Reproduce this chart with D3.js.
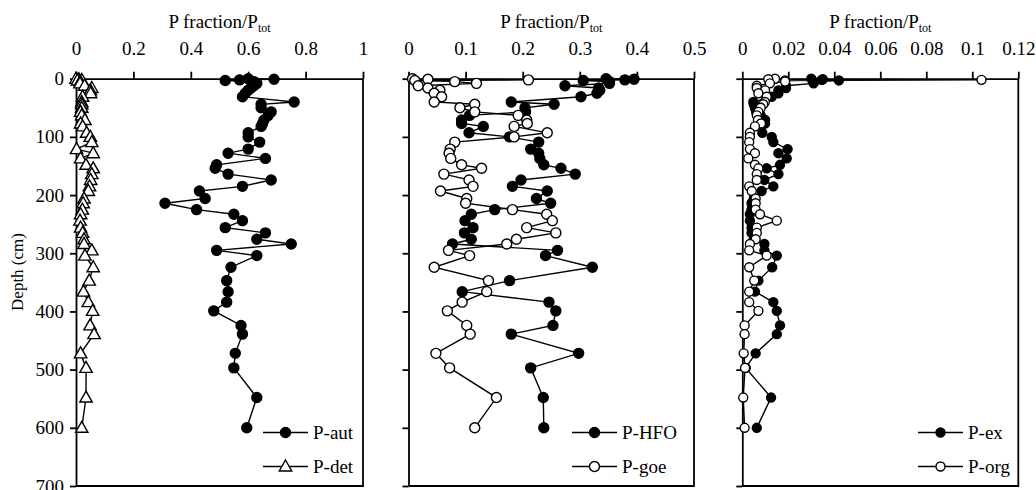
<!DOCTYPE html>
<html>
<head>
<meta charset="utf-8">
<script src="https://cdn.jsdelivr.net/npm/d3@7"></script>
<style>
  body { margin: 0; background: #fff; }
  svg { display: block; font-family: "Liberation Serif", "Times New Roman", serif; }
</style>
</head>
<body>
<div id="chart"></div>
<script>
// sample depths (cm), shared by all fractions
const depths = [0, 1, 2, 3, 5, 8, 12, 16, 20, 25, 31, 40, 44, 50, 57, 63, 71, 77, 82, 93,
  100, 109, 121, 128, 137, 148, 154, 164, 174, 185, 193, 206, 214, 225, 233, 244, 256, 265, 276, 284,
  295, 304, 324, 347, 366, 384, 399, 424, 439, 472, 497, 548, 600];

const pAut = [0.60, 0.69, 0.57, 0.52, 0.62, 0.63, 0.62, 0.61, 0.60, 0.59, 0.58, 0.76, 0.645, 0.645, 0.68, 0.67, 0.655, 0.65, 0.645, 0.60,
  0.60, 0.64, 0.60, 0.53, 0.66, 0.49, 0.485, 0.53, 0.68, 0.58, 0.43, 0.45, 0.31, 0.42, 0.55, 0.58, 0.52, 0.66, 0.63, 0.75,
  0.49, 0.63, 0.54, 0.525, 0.53, 0.525, 0.48, 0.575, 0.58, 0.555, 0.55, 0.63, 0.595];
const pDet = [0.0, 0.01, 0.02, 0.005, 0.015, 0.014, 0.03, 0.055, 0.05, 0.051, 0.023, 0.02, 0.02, 0.02, 0.016, 0.02, 0.031, 0.016, 0.023, 0.037,
  0.05, 0.055, 0.002, 0.06, 0.016, 0.035, 0.06, 0.055, 0.051, 0.047, 0.043, 0.028, 0.025, 0.022, 0.016, 0.014, 0.016, 0.023, 0.028, 0.028,
  0.055, 0.031, 0.06, 0.046, 0.026, 0.043, 0.058, 0.049, 0.063, 0.016, 0.035, 0.035, 0.02];
const pHfo = [0.346, 0.395, 0.379, 0.306, 0.352, 0.352, 0.274, 0.333, 0.335, 0.33, 0.302, 0.180, 0.255, 0.204, 0.205, 0.107, 0.093, 0.093, 0.131, 0.106,
  0.177, 0.228, 0.214, 0.228, 0.230, 0.237, 0.267, 0.292, 0.197, 0.182, 0.243, 0.224, 0.249, 0.151, 0.110, 0.099, 0.113, 0.098, 0.110, 0.077,
  0.261, 0.240, 0.322, 0.177, 0.094, 0.246, 0.258, 0.253, 0.180, 0.298, 0.214, 0.236, 0.237];
const pGoe = [0.007, 0.034, 0.21, 0.011, 0.081, 0.119, 0.017, 0.034, 0.055, 0.045, 0.058, 0.045, 0.116, 0.090, 0.116, 0.192, 0.207, 0.208, 0.185, 0.243,
  0.185, 0.081, 0.073, 0.071, 0.074, 0.093, 0.128, 0.062, 0.106, 0.113, 0.056, 0.102, 0.100, 0.182, 0.242, 0.252, 0.207, 0.258, 0.189, 0.172,
  0.070, 0.107, 0.045, 0.140, 0.137, 0.094, 0.068, 0.102, 0.108, 0.048, 0.072, 0.154, 0.116];
const pEx = [0.030, 0.035, 0.0345, 0.042, 0.031, 0.031, 0.019, 0.019, 0.0157, 0.0157, 0.0128, 0.0048, 0.005, 0.0055, 0.006, 0.008, 0.0099, 0.0099, 0.008, 0.0087,
  0.0128, 0.0135, 0.0197, 0.0157, 0.0193, 0.0164, 0.0106, 0.0157, 0.0096, 0.0135, 0.0084, 0.005, 0.004, 0.004, 0.0033, 0.0033, 0.004, 0.004, 0.005, 0.0096,
  0.0096, 0.015, 0.013, 0.007, 0.0055, 0.0135, 0.015, 0.0164, 0.015, 0.0058, 0.0015, 0.0125, 0.0063];
const pOrg = [0.0142, 0.0113, 0.104, 0.0186, 0.0186, 0.012, 0.0063, 0.0063, 0.0099, 0.007, 0.0106, 0.0098, 0.0091, 0.008, 0.007, 0.0063, 0.0068, 0.0081, 0.0055, 0.0033,
  0.0033, 0.003, 0.0033, 0.0055, 0.0026, 0.0055, 0.007, 0.0063, 0.0063, 0.003, 0.0041, 0.0058, 0.0058, 0.0058, 0.0077, 0.015, 0.0063, 0.0063, 0.0058, 0.0033,
  0.003, 0.0106, 0.003, 0.0052, 0.003, 0.003, 0.007, 0.001, 0.001, 0.0006, 0.0012, 0.0004, 0.001];

const depthTicks = [0, 100, 200, 300, 400, 500, 600, 700];

const W = 1036, H = 490;
const plotTop = 78.7, plotBottom = 486;

const svg = d3.select("#chart").append("svg")
  .attr("width", W)
  .attr("height", H);

const yScale = d3.scaleLinear().domain([0, 700]).range([plotTop, plotBottom]);

const panels = [
  {x0: 76, x1: 363, max: 1, ticks: [0, 0.2, 0.4, 0.6, 0.8, 1], r: 5,
   series: [{name: "P-aut", values: pAut, marker: "dot"}, {name: "P-det", values: pDet, marker: "tri"}],
   legendX: 263, yLabels: true},
  {x0: 408.5, x1: 694, max: 0.5, ticks: [0, 0.1, 0.2, 0.3, 0.4, 0.5], r: 5,
   series: [{name: "P-HFO", values: pHfo, marker: "dot"}, {name: "P-goe", values: pGoe, marker: "ring"}],
   legendX: 572, yLabels: false},
  {x0: 742.3, x1: 1018.3, max: 0.12, ticks: [0, 0.02, 0.04, 0.06, 0.08, 0.1, 0.12], r: 4.5,
   series: [{name: "P-ex", values: pEx, marker: "dot"}, {name: "P-org", values: pOrg, marker: "ring"}],
   legendX: 918, yLabels: false}
];

function drawMarker(g, type, r) {
  if (type === "tri") {
    g.append("path")
      .attr("d", "M0,-6.5L6.2,4.5L-6.2,4.5Z")
      .attr("fill", "#fff").attr("stroke", "#000").attr("stroke-width", 1.4);
  } else {
    g.append("circle")
      .attr("r", r)
      .attr("fill", type === "dot" ? "#000" : "#fff")
      .attr("stroke", "#000").attr("stroke-width", 1.4);
  }
}

panels.forEach(p => {
  const xScale = d3.scaleLinear().domain([0, p.max]).range([p.x0, p.x1]);
  const g = svg.append("g");

  // frame right + bottom
  g.append("path")
    .attr("d", `M${p.x1},${plotTop}V${plotBottom}H${p.x0}`)
    .attr("fill", "none").attr("stroke", "#000").attr("stroke-width", 1.8);

  // top axis
  const xAxisG = g.append("g")
    .attr("transform", `translate(0,${plotTop})`)
    .call(d3.axisTop(xScale).tickValues(p.ticks).tickSize(7).tickSizeOuter(0).tickPadding(17)
      .tickFormat(d => d3.format("~g")(d)));
  xAxisG.selectAll("line").attr("stroke-width", 1.8);
  xAxisG.select(".domain").attr("stroke-width", 1.8);
  xAxisG.selectAll("text").style("font-size", "19px").style("font-family", "Liberation Serif").attr("fill", "#000");

  // left axis
  const yAxisG = g.append("g")
    .attr("transform", `translate(${p.x0},0)`)
    .call(d3.axisLeft(yScale).tickValues(depthTicks).tickSize(6).tickSizeOuter(0).tickPadding(6)
      .tickFormat(p.yLabels ? d3.format("d") : ""));
  yAxisG.selectAll("line").attr("stroke-width", 1.8);
  yAxisG.select(".domain").attr("stroke-width", 1.8);
  yAxisG.selectAll("text").style("font-size", "19px").style("font-family", "Liberation Serif").attr("fill", "#000");

  // title
  const title = g.append("text")
    .attr("x", (p.x0 + p.x1) / 2)
    .attr("y", 28)
    .attr("text-anchor", "middle")
    .style("font-size", "19px");
  title.append("tspan").text("P fraction/P");
  title.append("tspan").attr("dy", 4).style("font-size", "12px").text("tot");

  // series: lines then markers
  p.series.forEach(s => {
    const pts = depths.map((d, i) => ({d: d, v: s.values[i]}));
    g.append("path")
      .datum(pts)
      .attr("fill", "none").attr("stroke", "#000").attr("stroke-width", 1.4)
      .attr("d", d3.line().x(q => xScale(q.v)).y(q => yScale(q.d)));
  });
  p.series.forEach(s => {
    const pts = depths.map((d, i) => ({d: d, v: s.values[i]}));
    g.selectAll(null)
      .data(pts)
      .join("g")
      .attr("transform", q => `translate(${xScale(q.v)},${yScale(q.d)})`)
      .each(function () { drawMarker(d3.select(this), s.marker, p.r); });
  });

  // legend
  p.series.forEach((s, i) => {
    const ly = 432.5 + i * 34;
    const lg = g.append("g");
    lg.append("line")
      .attr("x1", p.legendX).attr("x2", p.legendX + 45)
      .attr("y1", ly).attr("y2", ly)
      .attr("stroke", "#000").attr("stroke-width", 1.4);
    const mg = lg.append("g").attr("transform", `translate(${p.legendX + 22.5},${ly})`);
    drawMarker(mg, s.marker, p.r);
    lg.append("text")
      .attr("x", p.legendX + 50)
      .attr("y", ly + 6.5)
      .style("font-size", "19px")
      .text(s.name);
  });
});

// y axis label
svg.append("text")
  .attr("transform", `translate(23,272) rotate(-90)`)
  .attr("text-anchor", "middle")
  .style("font-size", "17px")
  .text("Depth (cm)");
</script>
</body>
</html>
